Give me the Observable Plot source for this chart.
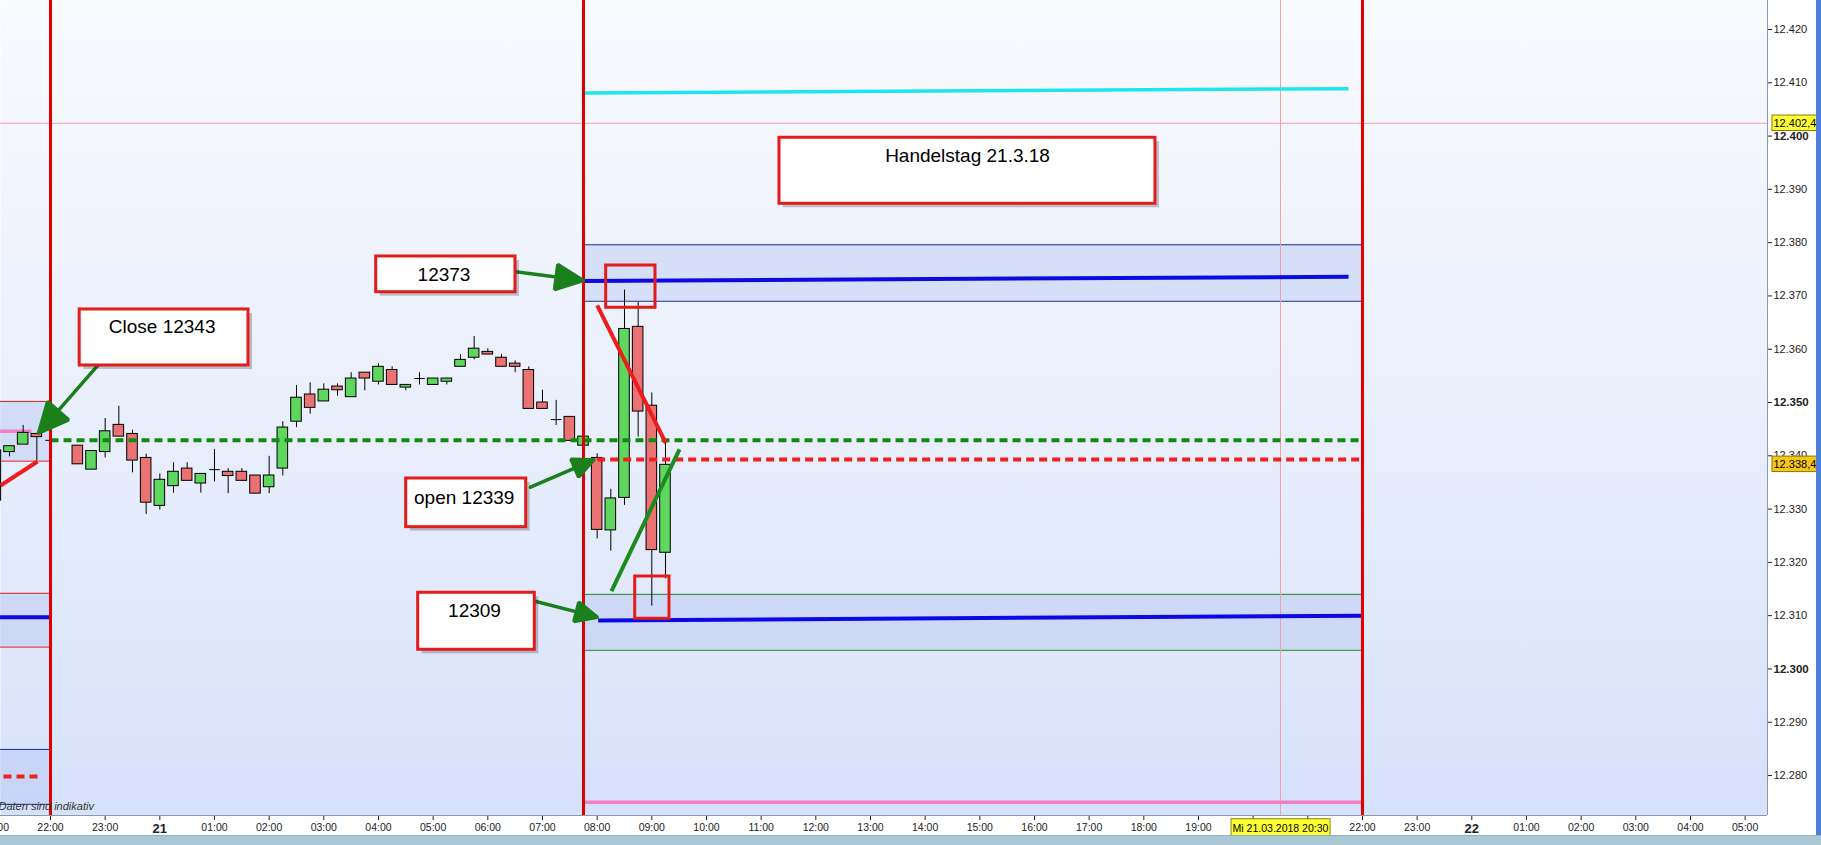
<!DOCTYPE html>
<html><head><meta charset="utf-8">
<script src="https://cdn.jsdelivr.net/npm/d3@7"></script>
<script src="https://cdn.jsdelivr.net/npm/@observablehq/plot@0.6"></script>
<style>
html,body{margin:0;padding:0;background:#fff;}
#wrap{position:relative;width:1821px;height:845px;overflow:hidden;}
#bbar{position:absolute;left:0;top:835px;width:1821px;height:10px;background:#a9c8d5;border-top:1px solid #90b2c2;}
#rbar{position:absolute;left:1816px;top:0;width:5px;height:835px;background:#4d7fd6;}
</style></head><body><div id="wrap"></div>
<script>
// time helper: hours relative to 20.03.2018 22:00 (UTC used as wall clock)
const BASE = Date.UTC(2018, 2, 20, 22, 0);
const T = h => new Date(BASE + h * 3600000);

// 15-minute candles
const candleHour = [-1,-0.75,-0.5,-0.25,0,0.5,0.75,1,1.25,1.5,1.75,2,2.25,2.5,2.75,3,3.25,3.5,3.75,4,4.25,4.5,4.75,5,5.25,5.5,5.75,6,6.25,6.5,6.75,7,7.25,7.5,7.75,8,8.25,8.5,8.75,9,9.25,9.5,9.75,10,10.25,10.5,10.75,11,11.25];
const candleOpen = [12331.6,12340.7,12342.1,12344.1,12342.9,12341.9,12337.4,12340.7,12345.8,12344.1,12339.6,12330.6,12334.3,12337.6,12334.8,12337.4,12337.0,12337.0,12336.3,12334.1,12337.6,12346.4,12351.5,12350.2,12353.0,12351.0,12355.6,12353.9,12356.1,12352.8,12354.5,12353.3,12353.9,12356.7,12358.4,12359.5,12358.4,12357.3,12356.1,12350.0,12346.8,12347.3,12341.9,12339.6,12326.0,12332.1,12364.2,12349.4,12321.8];
const candleHigh = [12341.0,12341.8,12345.7,12344.1,12342.9,12341.9,12340.9,12347.0,12349.3,12344.8,12340.3,12336.6,12338.7,12338.7,12336.6,12341.2,12337.6,12337.6,12336.3,12339.9,12346.4,12353.2,12353.7,12353.5,12353.5,12355.6,12355.6,12357.3,12356.7,12353.3,12355.6,12354.5,12354.5,12359.0,12362.4,12360.1,12359.0,12357.8,12356.7,12352.3,12350.4,12347.3,12343.6,12340.4,12333.7,12371.1,12368.8,12351.8,12342.4];
const candleLow = [12331.6,12339.8,12342.1,12339.1,12342.9,12338.4,12337.4,12339.6,12343.6,12336.8,12329.0,12329.8,12333.0,12335.3,12333.0,12335.1,12332.9,12335.3,12332.9,12332.9,12336.2,12345.3,12347.8,12350.2,12351.2,12351.0,12352.2,12353.3,12353.3,12352.2,12353.3,12353.3,12353.3,12356.7,12358.0,12359.0,12356.7,12355.6,12348.8,12348.8,12345.7,12342.8,12341.9,12324.4,12322.1,12330.7,12343.5,12311.8,12316.9];
const candleClose = [12341.0,12341.8,12344.3,12343.5,12342.9,12338.4,12340.9,12344.6,12343.6,12339.1,12331.2,12335.5,12337.0,12335.3,12336.6,12337.4,12336.2,12335.3,12332.9,12336.3,12345.3,12350.9,12349.0,12352.4,12352.3,12354.5,12354.5,12356.7,12353.3,12353.3,12354.5,12354.5,12354.5,12358.0,12360.1,12359.0,12356.7,12356.7,12348.8,12348.8,12346.8,12342.8,12343.6,12326.1,12332.0,12363.8,12348.3,12322.3,12338.3];

// axis ticks
const xTickHours = d3.range(-1, 32);
const xHiddenHours = [22, 23]; // labels covered by the crosshair date tag
const yTicks = d3.range(12280, 12421, 10);
const yBold = [12300, 12350, 12400];

// session separators (hours)
const sessionLines = [0, 9.75, 24];

// shaded zones
const bands = [
  {h1: -1.5, h2: 0, top: 12350.2, bottom: 12339.0, edge: "#e02020"},
  {h1: -1.5, h2: 0, top: 12314.2, bottom: 12304.1, edge: "#e02020"},
  {h1: -1.5, h2: 0, top: 12284.9, bottom: 12274.6, edge: "#1a2aa0"},
  {h1: 9.75, h2: 24, top: 12379.6, bottom: 12369.0, edge: "#1a2aa0"},
  {h1: 9.75, h2: 24, top: 12314.0, bottom: 12303.5, edge: "#1f8a1f"}
];

// solid level lines
const levels = [
  {h1: 9.766, p1: 12408.1, h2: 23.744, p2: 12408.9, color: "#1ee6ef", w: 3.5},
  {h1: 9.75, p1: 12372.8, h2: 23.744, p2: 12373.6, color: "#0a0ae6", w: 4},
  {h1: 10.018, p1: 12309.1, h2: 23.98, p2: 12310.0, color: "#0a0ae6", w: 4},
  {h1: 9.766, p1: 12275.0, h2: 24, p2: 12275.0, color: "#f27fc3", w: 3.5},
  {h1: -1.5, p1: 12309.7, h2: 0, p2: 12309.7, color: "#0a0ae6", w: 4},
  {h1: -1.5, p1: 12344.6, h2: -0.3476, p2: 12344.6, color: "#f27fc3", w: 3.5}
];

// dashed level lines
const dashedLevels = [
  {h1: 0, h2: 23.98, p: 12342.9, color: "#128a12"},
  {h1: 10.0, h2: 23.98, p: 12339.3, color: "#ee2020"},
  {h1: -0.86, h2: -0.238, p: 12279.8, color: "#ee2020"}
];

// trend lines
const trends = [
  {h1: 10.001, p1: 12368.21, h2: 11.256, p2: 12342.37, color: "#ee1c1c"},
  {h1: 10.262, p1: 12314.60, h2: 11.506, p2: 12341.19, color: "#1d8a1d"},
  {h1: -0.9146, p1: 12334.43, h2: -0.2378, p2: 12338.93, color: "#ee1c1c"}
];

// small red markers
const squares = [
  {h1: 10.165, h2: 11.067, p1: 12375.71, p2: 12367.78},
  {h1: 10.696, h2: 11.323, p1: 12317.35, p2: 12309.42}
];

// green arrows
const arrows = [
  {h1: 0.970, p1: 12358.2, h2: -0.2195, p2: 12344.25},
  {h1: 8.109, p1: 12375.09, h2: 9.744, p2: 12372.90},
  {h1: 8.781, p1: 12334.11, h2: 9.939, p2: 12339.25},
  {h1: 8.738, p1: 12313.04, h2: 10.001, p2: 12309.72}
];

// text boxes
const boxes = [
  {label: "Handelstag 21.3.18", h1: 13.335, h2: 20.213, top: 12399.68, bottom: 12387.29, th: 16.775, tp: 12396.36},
  {label: "12373", h1: 5.958, h2: 8.506, top: 12377.40, bottom: 12370.70, th: 7.198, tp: 12374.02},
  {label: "Close 12343", h1: 0.534, h2: 3.622, top: 12367.46, bottom: 12356.95, th: 2.042, tp: 12364.14},
  {label: "open 12339", h1: 6.507, h2: 8.702, top: 12335.74, bottom: 12326.61, th: 7.568, tp: 12332.05},
  {label: "12309", h1: 6.726, h2: 8.859, top: 12314.30, bottom: 12303.60, th: 7.756, tp: 12310.97}
];

// crosshair + price tags
const crossHour = 22.5;
const crossPrice = 12402.4;
const priceTags = [
  {label: "12.402,4", p: 12402.4, fill: "#ffff33"},
  {label: "12.338,4", p: 12338.4, fill: "#f5c71a"}
];
const dateTag = {label: "Mi 21.03.2018 20:30", h1: 21.605, h2: 23.416, p1: 12271.8, p2: 12268.4, th: 22.5, tp: 12270.1};

const candles = candleHour.map((h, i) => ({t: T(h), o: candleOpen[i], h: candleHigh[i], l: candleLow[i], c: candleClose[i]}));
const half = 5.8 * 60000;
const bodies = candles.filter(d => d.o !== d.c);
const dojis = candles.filter(d => d.o === d.c);

const hiddenTimes = xHiddenHours.map(h => +T(h));
const fmtX = d => {
  if (hiddenTimes.includes(+d)) return "";
  const h = d.getUTCHours();
  return h === 0 ? String(d.getUTCDate()) : String(h).padStart(2, "0") + ":00";
};
const fmtY = d => "12." + String(d % 1000).padStart(3, "0");

const ARROW = "#1b7f1b";
const marks = [
  Plot.frame({fill: "url(#bgGrad)"}),
  Plot.rect(bands, {x1: d => T(d.h1), x2: d => T(d.h2), y1: "top", y2: "bottom", fill: "#aebfee", fillOpacity: 0.38}),
  Plot.link(bands, {x1: d => T(d.h1), x2: d => T(d.h2), y1: "top", y2: "top", stroke: d => d.edge, strokeWidth: 1}),
  Plot.link(bands, {x1: d => T(d.h1), x2: d => T(d.h2), y1: "bottom", y2: "bottom", stroke: d => d.edge, strokeWidth: 1}),
  Plot.ruleY([crossPrice], {stroke: "#f2a0a0", strokeWidth: 1}),
  Plot.ruleX([T(crossHour)], {stroke: "#f2a0a0", strokeWidth: 1}),
  ...levels.map(d => Plot.link([d], {x1: v => T(v.h1), x2: v => T(v.h2), y1: "p1", y2: "p2", stroke: d.color, strokeWidth: d.w})),
  Plot.ruleX(candles, {x: "t", y1: "l", y2: "h", stroke: "#000", strokeWidth: 1}),
  Plot.rect(bodies, {x1: d => new Date(+d.t - half), x2: d => new Date(+d.t + half), y1: "o", y2: "c",
    fill: d => d.c > d.o ? "#5fd75f" : "#ea7272", stroke: "#000", strokeWidth: 1}),
  Plot.link(dojis, {x1: d => new Date(+d.t - half), x2: d => new Date(+d.t + half), y1: "o", y2: "o", stroke: "#000", strokeWidth: 1}),
  ...dashedLevels.map(d => Plot.link([d], {x1: v => T(v.h1), x2: v => T(v.h2), y1: "p", y2: "p", stroke: d.color, strokeWidth: 4, strokeDasharray: "8,5"})),
  ...trends.map(d => Plot.link([d], {x1: v => T(v.h1), x2: v => T(v.h2), y1: "p1", y2: "p2", stroke: d.color, strokeWidth: 4})),
  Plot.ruleX(sessionLines.map(T), {stroke: "#e00000", strokeWidth: 3}),
  Plot.rect(squares, {x1: d => T(d.h1), x2: d => T(d.h2), y1: "p1", y2: "p2", fill: "none", stroke: "#e41b1b", strokeWidth: 3}),
  Plot.arrow(arrows, {x1: d => T(d.h1), y1: "p1", x2: d => T(d.h2), y2: "p2", stroke: ARROW, strokeWidth: 3.5, headLength: 15, headAngle: 50, ariaLabel: "annot-arrow"}),
  Plot.rect(boxes, {x1: d => T(d.h1), x2: d => T(d.h2), y1: "top", y2: "bottom", fill: "#000", fillOpacity: 0.22, dx: 4, dy: 4}),
  Plot.rect(boxes, {x1: d => T(d.h1), x2: d => T(d.h2), y1: "top", y2: "bottom", fill: "#fff", stroke: "#e41b1b", strokeWidth: 3}),
  Plot.text(boxes, {x: d => T(d.th), y: "tp", text: "label", fontSize: 19, fill: "#000", textAnchor: "middle", lineAnchor: "middle"}),
  Plot.ruleY([12272.5], {stroke: "#8a9aaa", strokeWidth: 1}),
  Plot.ruleX([T(31.409)], {stroke: "#8a9aaa", strokeWidth: 1}),
  Plot.rect(priceTags, {x1: T(31.50), x2: T(32.32), y1: d => d.p + 1.45, y2: d => d.p - 1.45, fill: d => d.fill, stroke: "#8a7a00", strokeWidth: 1}),
  Plot.text(priceTags, {x: T(31.91), y: "p", text: "label", fontSize: 11, fill: "#000", textAnchor: "middle"}),
  Plot.rect([dateTag], {x1: d => T(d.h1), x2: d => T(d.h2), y1: "p1", y2: "p2", fill: "#ffff33", stroke: "#8a8a00", strokeWidth: 1}),
  Plot.text([dateTag], {x: d => T(d.th), y: "tp", text: "label", fontSize: 10.5, fill: "#000", textAnchor: "middle"}),
  Plot.text(["Daten sind indikativ"], {text: d => d, frameAnchor: "bottom-left", textAnchor: "start", dx: -2, dy: -6, fontStyle: "italic", fontSize: 11, fill: "#333"})
];

const chart = Plot.plot({
  width: 1821, height: 845,
  marginTop: 0, marginLeft: 0, marginRight: 54, marginBottom: 30,
  style: {fontFamily: "'Liberation Sans', Arial, sans-serif", fontSize: "11px", color: "#222", background: "white", overflow: "hidden"},
  color: {type: "identity"},
  x: {type: "utc", domain: [T(-0.9146), T(31.409)], ticks: xTickHours.map(T), tickFormat: fmtX, tickSize: 5, tickPadding: 3, label: null},
  y: {domain: [12272.5, 12425.44], axis: "right", ticks: yTicks, tickFormat: fmtY, tickSize: 4, tickPadding: 2, label: null},
  marks
});

const ns = "http://www.w3.org/2000/svg";
const defs = document.createElementNS(ns, "defs");
defs.innerHTML = '<linearGradient id="bgGrad" x1="0" y1="0" x2="0" y2="1"><stop offset="0" stop-color="#f9fafe"/><stop offset="0.5" stop-color="#eaeffc"/><stop offset="1" stop-color="#d6e1fa"/></linearGradient>';
chart.prepend(defs);

// fill the arrowheads (close the head sub-path)
const arrowPaths = new Set([
  ...chart.querySelectorAll('[aria-label="annot-arrow"] path'),
  ...chart.querySelectorAll('g[stroke="' + ARROW + '"] path')
]);
arrowPaths.forEach(p => {
  const d = p.getAttribute("d");
  if (d && !d.endsWith("Z")) {
    p.setAttribute("d", d + "Z");
    p.setAttribute("fill", ARROW);
    p.style.fill = ARROW;
    p.setAttribute("stroke-linejoin", "miter");
  }
});

chart.querySelectorAll('[aria-label^="x-axis"] text').forEach(t => {
  t.style.fontSize = "10.5px";
  if (/^\d{1,2}$/.test(t.textContent.trim())) { t.style.fontWeight = "bold"; t.style.fontSize = "13px"; }
});
const boldLabels = yBold.map(fmtY);
chart.querySelectorAll('[aria-label^="y-axis"] text').forEach(t => {
  if (boldLabels.includes(t.textContent.trim())) { t.style.fontWeight = "bold"; t.style.fontSize = "11.5px"; }
});

const wrap = document.getElementById("wrap");
wrap.appendChild(chart);
const bb = document.createElement("div"); bb.id = "bbar"; wrap.appendChild(bb);
const rb = document.createElement("div"); rb.id = "rbar"; wrap.appendChild(rb);
</script></body></html>
